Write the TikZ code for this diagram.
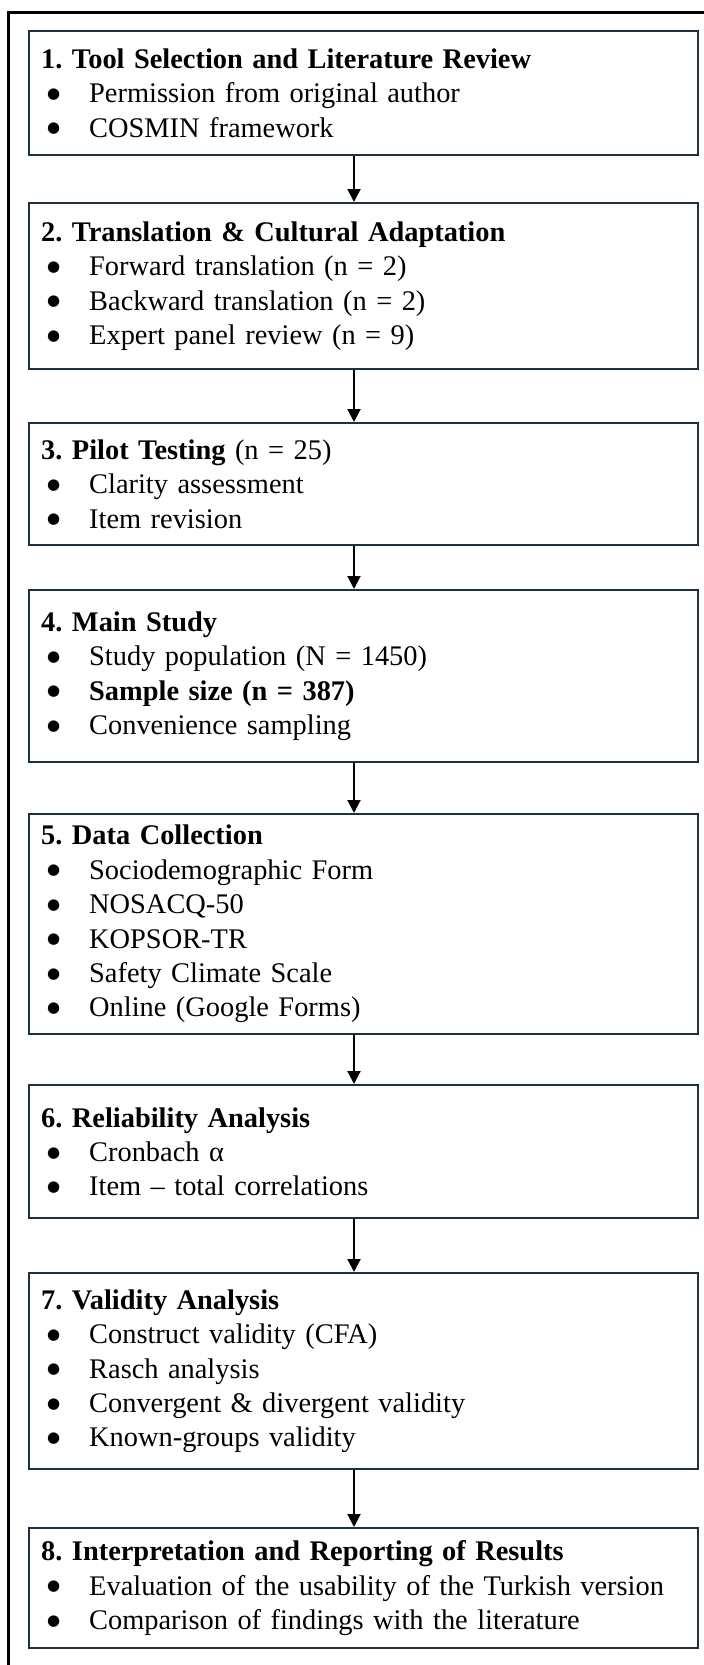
\documentclass[tikz,border=0pt]{standalone}
\usepackage{fontspec}
\setmainfont{Liberation Serif}
\newfontfamily\dotfont{DejaVu Sans}
\usepackage{tikz}
\usetikzlibrary{arrows.meta,positioning}
\definecolor{BoxLine}{RGB}{30,48,64}
\newcommand{\bul}{\hspace*{3pt}\makebox[21pt][l]{\raisebox{2.2pt}{\dotfont\fontsize{7.5pt}{8pt}\selectfont ●}}}
\frenchspacing

\begin{document}
\begin{tikzpicture}[
 x=0.5pt, y=-0.5pt,
 stage/.style={draw=BoxLine, line width=1.2pt, anchor=north west, minimum width=334.5pt,
  text width=322.5pt, inner xsep=6pt, inner ysep=0pt, align=left},
 flow/.style={-{Triangle[length=6.5pt,width=6.5pt]}, line width=1pt},
 frame/.style={line width=1.5pt},
 font=\fontsize{14.2pt}{17.2pt}\selectfont
]
\useasboundingbox (0,0) rectangle (703,1665);
\draw[frame] (8,1670) -- (8,12) -- (710,12);
\coordinate (axis) at (354,0);

\node[stage, minimum height=62pt] (tool) at (28,30) {\textbf{1. Tool Selection and Literature Review}\\
 \bul Permission from original author\\
 \bul COSMIN framework};
\node[stage, minimum height=83pt] (trans) at (28,202) {\textbf{2. Translation \& Cultural Adaptation}\\
 \bul Forward translation (n = 2)\\
 \bul Backward translation (n = 2)\\
 \bul Expert panel review (n = 9)};
\node[stage, minimum height=61pt] (pilot) at (28,422) {\textbf{3. Pilot Testing} (n = 25)\\
 \bul Clarity assessment\\
 \bul Item revision};
\node[stage, minimum height=86pt] (main) at (28,589) {\textbf{4. Main Study}\\
 \bul Study population (N = 1450)\\
 \bul \textbf{Sample size (n = 387)}\\
 \bul Convenience sampling};
\node[stage, minimum height=110pt] (collect) at (28,813) {\textbf{5. Data Collection}\\
 \bul Sociodemographic Form\\
 \bul NOSACQ-50\\
 \bul KOPSOR-TR\\
 \bul Safety Climate Scale\\
 \bul Online (Google Forms)};
\node[stage, minimum height=66.5pt] (reli) at (28,1084) {\textbf{6. Reliability Analysis}\\
 \bul Cronbach α\\
 \bul Item – total correlations};
\node[stage, minimum height=98pt] (valid) at (28,1272) {\textbf{7. Validity Analysis}\\
 \bul Construct validity (CFA)\\
 \bul Rasch analysis\\
 \bul Convergent \& divergent validity\\
 \bul Known-groups validity};
\node[stage, minimum height=60pt] (report) at (28,1527) {\textbf{8. Interpretation and Reporting of Results}\\
 \bul Evaluation of the usability of the Turkish version\\
 \bul Comparison of findings with the literature};

\foreach \a/\b in {tool/trans,trans/pilot,pilot/main,main/collect,collect/reli,reli/valid,valid/report}
 {\draw[flow] (\a.south -| axis) -- (\b.north -| axis);}
\end{tikzpicture}
\end{document}
